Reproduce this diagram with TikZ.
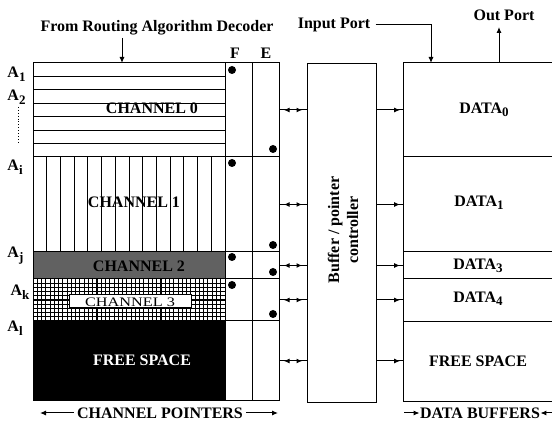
\documentclass[tikz,border=0pt]{standalone}
\usepackage{fontspec}
\setmainfont{Liberation Serif}
\usetikzlibrary{arrows.meta,calc}
\newcommand{\subs}[1]{\raisebox{-0.45ex}{\fontsize{13}{13}\selectfont #1}}
\begin{document}
\begin{tikzpicture}[x=1pt,y=-1pt,line width=1pt,
  lbl/.style={font=\fontsize{16}{18}\selectfont\bfseries, inner sep=0},
  small/.style={font=\fontsize{13}{14}\selectfont, inner sep=0},
  tip/.style={-{Latex[length=6pt,width=5pt]}},
  dbl/.style={{Latex[length=5.5pt,width=5pt]}-{Latex[length=5.5pt,width=5pt]}},
  dot/.style={circle, fill, inner sep=0, minimum size=8pt},
  seg/.style={draw, anchor=north west, inner sep=0, outer sep=0, minimum width=27pt},
  dseg/.style={draw, anchor=north west, inner sep=0, outer sep=0, minimum width=152pt},
]
\useasboundingbox (0,0) rectangle (552,427);

% ---------- channel area ----------
\draw (33,63) rectangle (225,157);
\foreach \y in {76.4,89.9,103.3,116.7,130.1,143.6} \draw (33,\y) -- (225,\y);
\draw (33,157) rectangle (225,252);
\foreach \i in {1,...,13} \draw ({33+\i*192/14},157) -- ({33+\i*192/14},252);
\fill[black!62] (33,252) rectangle (225,279);
\draw (33,252) rectangle (225,279);
\foreach \i in {1,...,44} \draw[line width=1.1pt] ({33+\i*192/45},279) -- ({33+\i*192/45},321);
\foreach \j in {1,...,9} \draw[line width=1.1pt] (33,{279+\j*4.2}) -- (225,{279+\j*4.2});
\draw (33,279) rectangle (225,321);
\fill[white] (69,295) rectangle (191,308);
\draw (69,295) rectangle (191,308);
\fill (33,321) rectangle (225,401);

\node[lbl] (c0) at (152,108) {CHANNEL 0};
\node[lbl] (c1) at (134,202) {CHANNEL 1};
\node[lbl] (c2) at (139,266) {CHANNEL 2};
\node[small] (c3) at (130,302) {\scalebox{1.25}[1]{CHANNEL 3}};
\node[lbl, text=white] (c4) at (142,360) {FREE SPACE};

% ---------- F / E columns ----------
\node[seg, minimum height=94pt] (f0) at (225,63) {};
\node[seg, minimum height=95pt] (f1) at (225,157) {};
\node[seg, minimum height=27pt] (f2) at (225,252) {};
\node[seg, minimum height=42pt] (f3) at (225,279) {};
\node[seg, minimum height=80pt] (f4) at (225,321) {};
\node[seg, minimum height=94pt] (e0) at (252,63) {};
\node[seg, minimum height=95pt] (e1) at (252,157) {};
\node[seg, minimum height=27pt] (e2) at (252,252) {};
\node[seg, minimum height=42pt] (e3) at (252,279) {};
\node[seg, minimum height=80pt] (e4) at (252,321) {};

\node[dot] (fd0) at (232,70) {};
\node[dot] (ed0) at (273,149) {};
\node[dot] (fd1) at (232,163) {};
\node[dot] (ed1) at (273,245) {};
\node[dot] (fd2) at (232,257) {};
\node[dot] (ed2) at (273,272) {};
\node[dot] (fd3) at (232,285) {};
\node[dot] (ed3) at (273,314) {};

\node[lbl] (F) at (235,53) {F};
\node[lbl] (E) at (266,53) {E};

% ---------- left address labels ----------
\node[lbl, anchor=base west] (a1) at (7,78) {A\subs{1}};
\node[lbl, anchor=base west] (a2) at (7,101) {A\subs{2}};
\coordinate (dt1) at (18,107);
\coordinate (dt2) at (18,143);
\draw[dotted, line width=0.9pt] (dt1) -- (dt2);
\node[lbl, anchor=base west] (ai) at (7,171) {A\subs{i}};
\node[lbl, anchor=base west] (aj) at (7,258) {A\subs{j}};
\node[lbl, anchor=base west] (ak) at (10,296) {A\subs{k}};
\node[lbl, anchor=base west] (al) at (7,332) {A\subs{l}};

% ---------- controller ----------
\node[draw, anchor=north west, inner sep=0, minimum width=69pt, minimum height=339pt] (ctrl) at (307,63) {};
\node[lbl, rotate=90, align=center, font=\fontsize{16}{19}\selectfont\bfseries] (ctext) at (343,230) {Buffer / pointer\\controller};

% ---------- data buffers ----------
\node[dseg, minimum height=94pt] (d0) at (403,63) {};
\node[dseg, minimum height=95pt] (d1) at (403,157) {};
\node[dseg, minimum height=27pt] (d2) at (403,252) {};
\node[dseg, minimum height=43pt] (d3) at (403,279) {};
\node[dseg, minimum height=80pt] (d4) at (403,322) {};

\node[lbl] (t0) at (484,110) {DATA\subs{0}};
\node[lbl] (t1) at (479,203) {DATA\subs{1}};
\node[lbl] (t2) at (478,266) {DATA\subs{3}};
\node[lbl] (t3) at (478,299) {DATA\subs{4}};
\node[lbl] (t4) at (478,361) {FREE SPACE};

% ---------- connectors ----------
\foreach \k in {0,...,4}{
  \draw (e\k.east) -- (ctrl.west |- e\k.east);
  \draw[dbl, shorten <=5pt, shorten >=5pt] (e\k.east) -- (ctrl.west |- e\k.east);
  \draw (ctrl.east |- e\k.east) -- (d\k.west |- e\k.east);
  \draw[tip, shorten >=3pt] (ctrl.east |- e\k.east) -- (d\k.west |- e\k.east);
}

% ---------- top labels ----------
\node[lbl] (top) at (157,28) {From Routing Algorithm Decoder};
\coordinate (topa) at (122,38);
\draw[tip] (topa) -- (topa |- f0.north);

\node[lbl] (inp) at (334,25) {Input Port};
\coordinate (inc) at (431,25);
\draw[tip] (inp.east) ++(5,0) -- (inc) -- (inc |- d0.north);

\node[lbl] (outp) at (504,15) {Out Port};
\coordinate (outb) at (499,63);
\draw[tip] (outb) -- (499,27);

% ---------- bottom labels ----------
\node[lbl] (cp) at (160,413) {CHANNEL POINTERS};
\coordinate (cpl) at (40,413);
\coordinate (cpr) at (278,413);
\draw[tip] (cp.west) ++(-3,0) -- (cpl);
\draw[tip] (cp.east) ++(3,0) -- (cpr);

\node[lbl] (db) at (480,413) {DATA BUFFERS};
\coordinate (dbl) at (404,413);
\coordinate (dbr) at (552,413);
\draw[tip] (dbl) -- (db.west);
\draw[tip] (dbr) -- (db.east);
\end{tikzpicture}
\end{document}
